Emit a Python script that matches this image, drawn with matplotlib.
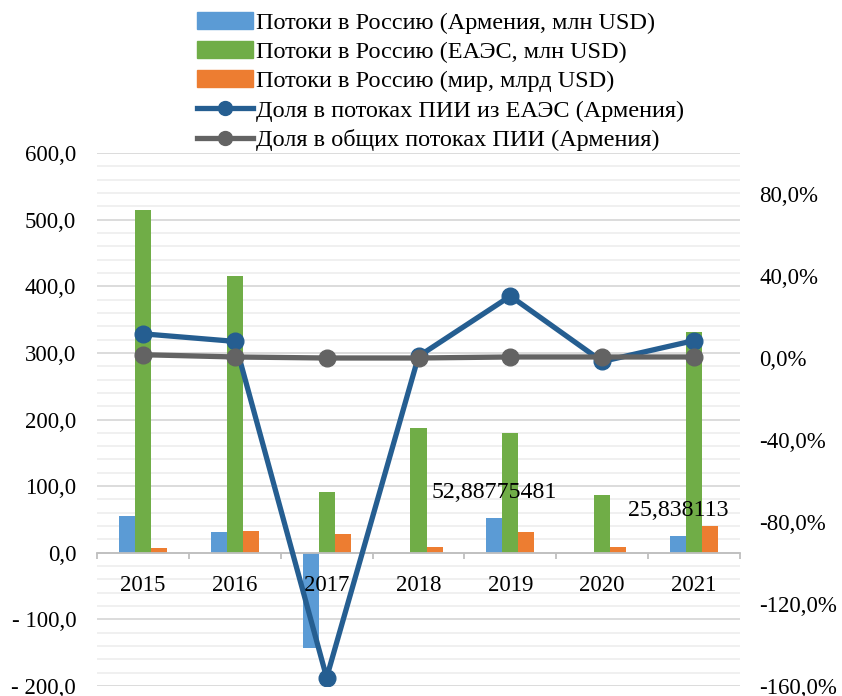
import matplotlib
matplotlib.use("Agg")
import matplotlib.pyplot as plt
import numpy as np
from matplotlib.patches import Patch
from matplotlib.lines import Line2D
from matplotlib.ticker import MultipleLocator, FixedLocator

plt.rcParams["font.family"] = ["Liberation Serif", "DejaVu Serif"]

years = ["2015", "2016", "2017", "2018", "2019", "2020", "2021"]
armenia_mln = [55.6, 30.5, -142.4, 0.0, 52.88775481, -1.0, 25.838113]
eaeu_mln = [514.0, 415.0, 90.7, 187.0, 179.0, 87.0, 332.0]
world_bln = [6.5, 32.0, 28.0, 8.0, 31.6, 8.5, 40.0]
share_eaeu = [11.8, 8.1, -155.9, 0.8, 30.2, -1.7, 8.5]
share_total = [1.6, 0.5, 0.0, 0.0, 0.5, 0.5, 0.5]

bar_names = ["Потоки в Россию (Армения, млн USD)",
             "Потоки в Россию (ЕАЭС, млн USD)",
             "Потоки в Россию (мир, млрд USD)"]
line_names = ["Доля в потоках ПИИ из ЕАЭС (Армения)",
              "Доля в общих потоках ПИИ (Армения)"]
bar_colors = ["#5b9bd5", "#70ad47", "#ed7d31"]
line_colors = ["#255e91", "#636363"]
fs = 17.5
tfs = 16.5

fig = plt.figure(figsize=(8.42, 6.96), dpi=100)
W, H = 842, 696
ax = fig.add_axes([97 / W, 1 - 686 / H, (740 - 97) / W, (686 - 153) / H])

x = np.arange(len(years))
bw = 0.175
for i, (vals, c) in enumerate(zip([armenia_mln, eaeu_mln, world_bln], bar_colors)):
    bars = ax.bar(x + (i - 1) * bw, vals, width=bw, color=c, zorder=2)
    if i == 0:
        for b, v in zip(bars, vals):
            if v in (52.88775481, 25.838113):
                ax.annotate(f"{v}".replace(".", ","),
                            (b.get_x() + b.get_width() / 2, v),
                            xytext=(0, 25), textcoords="offset pixels",
                            ha="center", va="center", fontsize=17.2, zorder=3)

ax.set_xlim(-0.5, 6.5)
ax.set_ylim(-200, 600)
ax.yaxis.set_minor_locator(MultipleLocator(20))


def left_fmt(v):
    s = f"{abs(v):.1f}".replace(".", ",")
    return "- " + s if v < 0 else s


lt = np.arange(-200, 601, 100)
ax.set_yticks(lt)
ax.set_yticklabels([left_fmt(v) for v in lt])
ax.tick_params(axis="y", which="both", length=0, labelsize=tfs, pad=15)
ax.grid(axis="y", which="major", color="#d9d9d9", lw=1.3)
ax.grid(axis="y", which="minor", color="#efefef", lw=1.3)
ax.set_axisbelow(True)

for s in ["top", "right", "left"]:
    ax.spines[s].set_visible(False)
ax.spines["bottom"].set_position(("data", 0))
ax.spines["bottom"].set_color("#bfbfbf")
ax.spines["bottom"].set_linewidth(1.3)
ax.set_xticks(x)
ax.set_xticklabels(years)
ax.xaxis.set_minor_locator(FixedLocator(np.arange(-0.5, 7, 1)))
ax.tick_params(axis="x", which="major", length=0, labelsize=tfs, pad=16)
ax.tick_params(axis="x", which="minor", length=4.5, width=1.3, color="#bfbfbf",
               direction="out")
ax.xaxis.set_zorder(2.5)

ax2 = ax.twinx()
ax2.set_ylim(-160, 100)
rt = np.arange(-160, 81, 40)
ax2.set_yticks(rt)
ax2.set_yticklabels([f"{v:.1f}".replace(".", ",") + "%" for v in rt])
ax2.tick_params(axis="y", length=0, labelsize=tfs, pad=14)
for s in ax2.spines.values():
    s.set_visible(False)

for vals, c in zip([share_eaeu, share_total], line_colors):
    ax2.plot(x, vals, color=c, lw=3.8, marker="o", markersize=12, zorder=4)

handles = [Patch(color=c) for c in bar_colors]
handles += [Line2D([], [], color=c, lw=3.8, marker="o", markersize=10)
            for c in line_colors]
fig.legend(handles, bar_names + line_names, loc="upper left",
           bbox_to_anchor=(192 / W, 1 - 7 / H), frameon=False, fontsize=fs,
           handlelength=2.3, handletextpad=0.12, labelspacing=0.3,
           borderaxespad=0, borderpad=0.2)

fig.savefig("out.png", dpi=100)
